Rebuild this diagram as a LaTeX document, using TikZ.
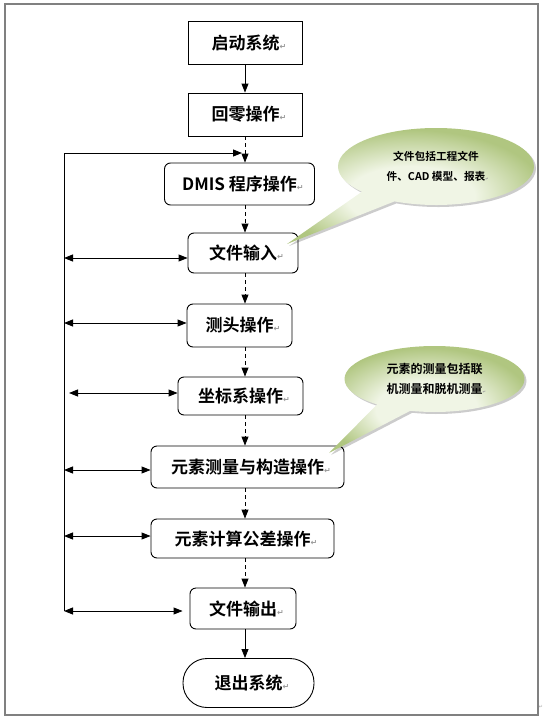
\documentclass[tikz,border=0pt]{standalone}
\usepackage{fontspec}
\newfontfamily\cjk{Noto Sans CJK SC}[BoldFont={Noto Sans CJK SC Bold}]
\newfontfamily\markfont{DejaVu Sans}
\usepackage{tikz}
\usetikzlibrary{arrows.meta,shapes.callouts,shadows,calc}

\definecolor{mossin}{RGB}{240,245,229}
\definecolor{mossout}{RGB}{176,198,128}
\definecolor{framegray}{RGB}{128,128,128}
\pgfdeclareradialshading{moss}{\pgfpoint{0bp}{-6bp}}{color(0bp)=(mossin); color(13bp)=(mossin); color(27bp)=(mossout); color(50bp)=(mossout)}

\newcommand{\pmark}[1][8]{\rlap{\markfont\color{gray!80}\fontsize{#1}{#1}\selectfont ↵}}

\begin{document}
\begin{tikzpicture}[x=1pt,y=-1pt,
		box/.style={draw, line width=0.9pt, inner sep=0pt, font=\cjk\bfseries\fontsize{17}{20}\selectfont},
		rbox/.style={box, rounded corners=6pt},
		arr/.style={line width=0.9pt, -{Triangle[length=9pt,width=7pt]}},
		darr/.style={arr, dash pattern=on 4pt off 3pt},
		both/.style={line width=0.9pt, {Triangle[length=9pt,width=7pt]}-{Triangle[length=9pt,width=7pt]}},
		note/.style={ellipse callout, callout pointer arc=24, shade, shading=moss, draw=none,
			drop shadow={shadow xshift=2pt, shadow yshift=-2pt, opacity=0.2, fill=black},
			align=center, inner sep=0pt}]
		\useasboundingbox (0,0) rectangle (543,720);
		\draw[framegray, line width=1.5pt] (5,4) rectangle (538,715);
		\node[text=gray!70, font=\markfont\fontsize{5}{5}\selectfont] (endmark) at (541,707) {↵};
		
		\coordinate (ax) at (245,0);
		\coordinate (ltop) at (64,153);
		\coordinate (ltip) at (242,153);
		\coordinate (tip1) at (287,244);
		\coordinate (tip2) at (329,453);
		\foreach \n/\y in {4/258,5/323,6/393,7/470,8/536,9/611}
			\coordinate (l\n) at (64,\y);
		
		\node[box, minimum width=114pt, minimum height=43pt] (f1) at (245.5,43) {启动系统\pmark};
		\node[box, minimum width=114pt, minimum height=43pt] (f2) at (245.5,114.5) {回零操作\pmark};
		\node[rbox, minimum width=150pt, minimum height=42pt] (f3) at (239.5,184) {DMIS 程序操作\pmark};
		\node[rbox, minimum width=110pt, minimum height=40pt] (f4) at (243,253) {文件输入\pmark};
		\node[rbox, minimum width=105pt, minimum height=43pt] (f5) at (239.5,325.5) {测头操作\pmark};
		\node[rbox, minimum width=125pt, minimum height=38pt] (f6) at (240.5,396) {坐标系操作\pmark};
		\node[rbox, minimum width=193pt, minimum height=42pt] (f7) at (247.5,467) {元素测量与构造操作\pmark};
		\node[rbox, minimum width=183pt, minimum height=39pt] (f8) at (242.5,538.5) {元素计算公差操作\pmark};
		\node[rbox, minimum width=106pt, minimum height=41pt] (f9) at (243,608.5) {文件输出\pmark};
		\node[box, rounded corners=24pt, minimum width=131pt, minimum height=49pt] (f10) at (248.5,683) {退出系统\pmark};
		
		\draw[arr] (f1.south -| ax) -- (f2.north -| ax);
		\foreach \a/\b in {f2/f3,f3/f4,f4/f5,f5/f6,f6/f7,f7/f8,f8/f9}
			\draw[darr] (\a.south -| ax) -- (\b.north -| ax);
		\draw[arr] (f9.south -| ax) -- (f10.north -| ax);
		
		\draw[arr] (l9) -- (ltop) -- (ltip);
		\foreach \n in {4,5,7,8}
			\draw[both] (l\n) -- (l\n -| f\n.west);
		\draw[both, shorten <=5pt] (l6) -- (l6 -| f6.west);
		\draw[both, shorten >=7pt] (l9) -- (l9 -| f9.west);
		
		\node[note, minimum width=196pt, minimum height=77pt, callout absolute pointer={(tip1)},
			font=\cjk\bfseries\fontsize{10.7}{20.5}\selectfont] (c1) at (436,166.5)
			{文件包括工程文件\\件、CAD 模型、报表\pmark[4]};
		\node[note, minimum width=180pt, minimum height=66pt, callout absolute pointer={(tip2)},
			font=\cjk\bfseries\fontsize{12}{20}\selectfont] (c2) at (434.5,379)
			{元素的测量包括联\\机测量和脱机测量\pmark[4]};
	\end{tikzpicture}
\end{document}
